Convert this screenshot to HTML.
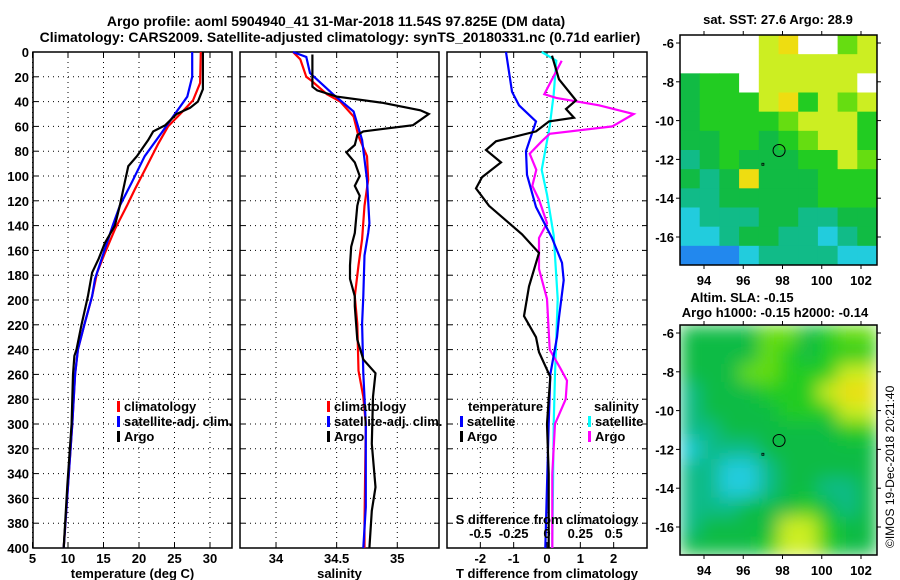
<!DOCTYPE html>
<html><head><meta charset="utf-8"><style>
body{margin:0;background:#fff}
svg{display:block;font-family:"Liberation Sans",Arial,sans-serif;font-weight:bold}
text{font-size:13px;fill:#000}
</style></head><body>
<svg id="c" width="900" height="580" xmlns="http://www.w3.org/2000/svg">
<text x="336" y="26" text-anchor="middle" style="font-size:14px">Argo profile: aoml 5904940_41 31-Mar-2018 11.54S 97.825E (DM data)</text>
<text x="340" y="42" text-anchor="middle" style="font-size:14px">Climatology: CARS2009. Satellite-adjusted climatology: synTS_20180331.nc (0.71d earlier)</text>
<text x="778" y="24" text-anchor="middle">sat. SST: 27.6 Argo: 28.9</text>
<text x="742" y="302" text-anchor="middle">Altim. SLA: -0.15</text>
<text x="775" y="317" text-anchor="middle">Argo h1000: -0.15 h2000: -0.14</text>
<text transform="translate(894,548) rotate(-90)" style="font-size:12px;font-weight:normal">©IMOS 19-Dec-2018 20:21:40</text>
</svg>
<script>
const tClimD=[0,25,39,50,60,74,92,111,124,143,162,178,197,220,240,260,300,350,400];
const tClimV=[28.7,28.6,27.6,25.8,24.1,22.7,21.1,19.4,18.3,16.6,15.2,14.1,13.4,12.3,11.4,11.0,10.6,10.0,9.4];
const tSatD=[0,20,36,52,65,84,105,124,140,164,183,197,220,240,260,300,350,400];
const tSatV=[27.5,27.5,26.8,24.8,23.2,20.8,19.0,17.3,16.3,14.9,13.8,13.4,12.3,11.4,11.0,10.6,10.0,9.4];
const tArgD=[0,30,40,45,50,59,64,71,84,92,105,124,140,154,167,178,197,220,240,245,260,300,350,400];
const tArgV=[29.0,29.0,28.3,27.2,25.3,23.7,22.0,21.3,19.7,18.5,18.0,17.3,16.6,15.2,14.3,13.4,12.8,11.9,11.2,10.9,10.7,10.5,9.9,9.4];
const sClimD=[0,6,20,23,34,40,52,68,84,103,124,151,172,197,219,257,278,300,380,400];
const sClimV=[34.14,34.20,34.25,34.29,34.42,34.53,34.64,34.68,34.75,34.76,34.73,34.71,34.68,34.65,34.67,34.68,34.72,34.74,34.73,34.73];
const sSatD=[0,4,17,34,48,71,103,138,146,164,197,219,259,300,367,400];
const sSatV=[34.14,34.25,34.28,34.47,34.64,34.71,34.75,34.77,34.76,34.73,34.72,34.71,34.72,34.74,34.74,34.72];
const sArgD=[2,28,31,36,41,47,50,59,64,67,75,81,89,100,108,116,124,146,157,172,183,197,205,232,248,259,278,316,351,370,400];
const sArgV=[34.30,34.30,34.34,34.50,34.88,35.19,35.26,35.13,34.72,34.67,34.65,34.58,34.65,34.69,34.65,34.69,34.67,34.65,34.62,34.61,34.61,34.65,34.65,34.67,34.72,34.82,34.80,34.79,34.82,34.79,34.77];
const dTsD=[0,32,43,56,80,99,125,150,170,184,214,230,260,300,400];
const dTsV=[-1.23,-1.05,-0.84,-0.33,-0.63,-0.6,-0.33,0.15,0.45,0.5,0.36,0.3,0.1,0.05,-0.05];
const dTaD=[3,22,39,46,53,56,64,72,79,89,101,110,124,147,162,189,213,230,242,262,280,300,340,400];
const dTaV=[0.15,0.36,0.87,0.57,0.81,0.06,-0.33,-1.53,-1.83,-1.38,-1.95,-2.13,-1.74,-0.75,-0.24,-0.54,-0.69,-0.33,-0.24,0.1,0.05,0,0.05,0.05];
const dSaD=[7,34,37,43,50,60,66,72,82,95,108,119,138,150,175,199,240,255,265,280,300,340,400];
const dSaV=[0.11,-0.02,0.07,0.39,0.65,0.49,0.02,-0.04,-0.13,-0.08,-0.11,-0.06,0,-0.06,-0.06,0,0.02,0.1,0.15,0.14,0.06,0.04,0.04];
const dSsD=[0,7,34,60,95,115,148,199,260,300,400];
const dSsV=[-0.04,0.07,0.05,0.02,-0.04,0,0.05,0.08,0.06,0.05,0.04];
const depthTicks=[0,20,40,60,80,100,120,140,160,180,200,220,240,260,280,300,320,340,360,380,400];
const sstGrid=["wwwwyYwwly","wwwwyyyyyy","Gggwyyyyyw","GgggyYgyly","Ggggglyyyg","GGggGglyyg","tGgGGGggyl","GtGYGGGggg","ttGGGGGggg","ctttGGttGG","cctGGttctG","bbbcttttcc"];
const slaGrid=["GGGGllGgll","GGGGlgGggg","GGGllgggyy","tGGGgggyYY","tGGGGgggyy","ttGGGGGGgg","ctttGGGGGG","ttcctGGGGG","ttcctGGttG","tttGGGgGtG","tGGGGyygGG","GGGGgyygGG"];
const latTicks=[-6,-8,-10,-12,-14,-16];
const lonTicks=[94,96,98,100,102];

const NS="http://www.w3.org/2000/svg",svg=document.getElementById('c');
function mk(t,a,p){const e=document.createElementNS(NS,t);for(const k in a)e.setAttribute(k,a[k]);(p||svg).appendChild(e);return e;}
const yTop=52,yBot=548;
const yD=d=>yTop+(yBot-yTop)*d/400;
function panel(x0,x1,v0,v1,name){
  const xs=v=>x0+(x1-x0)*(v-v0)/(v1-v0);
  const g=mk('g',{});
  
  
  return {x0,x1,xs,g};
}
function frame(p,xt,lbl,showY){
  depthTicks.forEach(d=>{const y=yD(d);
    if(d>0&&d<400){const l=mk('line',{x1:p.x0,x2:p.x1,y1:y,y2:y,stroke:'#000','stroke-dasharray':'1,4'},p.g);}
    mk('line',{x1:p.x0,x2:p.x0+5,y1:y,y2:y,stroke:'#000'},p.g);mk('line',{x1:p.x1-5,x2:p.x1,y1:y,y2:y,stroke:'#000'},p.g);
    if(showY){const t=mk('text',{x:p.x0-4,y:y+5,'text-anchor':'end'},p.g);t.textContent=d;}
  });
  xt.forEach(v=>{const x=p.xs(v);
    const l=mk('line',{x1:x,x2:x,y1:yTop,y2:yBot,stroke:'#000','stroke-dasharray':'1,4'},p.g);
    mk('line',{x1:x,x2:x,y1:yBot-5,y2:yBot,stroke:'#000'},p.g);mk('line',{x1:x,x2:x,y1:yTop,y2:yTop+5,stroke:'#000'},p.g);
    const t=mk('text',{x:x,y:563,'text-anchor':'middle'},p.g);t.textContent=v;});
  const r=mk('rect',{x:p.x0,y:yTop,width:p.x1-p.x0,height:yBot-yTop,fill:'none',stroke:'#000','stroke-width':1.5},p.g);
  
  const t=mk('text',{x:(p.x0+p.x1)/2,y:578,'text-anchor':'middle'},p.g);t.textContent=lbl;
  
}
function line(p,D,V,col,name,k){k=k||1;
  const pts=D.map((d,i)=>p.xs(V[i]*k).toFixed(1)+','+yD(d).toFixed(1)).join(' ');
  const e=mk('polyline',{points:pts,fill:'none',stroke:col,'stroke-width':2.2},p.g);
  }
function leg(p,x,y,col,txt,name){mk('rect',{x:x,y:y-10,width:3,height:11,fill:col},p.g);
  const t=mk('text',{x:x+7,y:y},p.g);t.textContent=txt;}

const p1=panel(33,232,5.07,33.1,'temperature-panel');
frame(p1,[5,10,15,20,25,30],'temperature (deg C)',true);
line(p1,tClimD,tClimV,'#f00','temp-climatology-line');
line(p1,tSatD,tSatV,'#00f','temp-satellite-line');
line(p1,tArgD,tArgV,'#000','temp-argo-line');
leg(p1,117,411,'#f00','climatology','legend-climatology');leg(p1,117,426,'#00f','satellite-adj. clim.','legend-satellite');leg(p1,117,441,'#000','Argo','legend-argo');

const p2=panel(240,439,33.703,35.344,'salinity-panel');
frame(p2,[34,34.5,35],'salinity',false);
line(p2,sClimD,sClimV,'#f00','sal-climatology-line');
line(p2,sSatD,sSatV,'#00f','sal-satellite-line');
line(p2,sArgD,sArgV,'#000','sal-argo-line');
leg(p2,327,411,'#f00','climatology','legend-climatology');leg(p2,327,426,'#00f','satellite-adj. clim.','legend-satellite');leg(p2,327,441,'#000','Argo','legend-argo');

const p3=panel(447,647,-3,3,'difference-panel');
frame(p3,[-2,-1,0,1,2],'T difference from climatology',false);
line(p3,dSsD,dSsV,'#0ff','sal-diff-satellite-line',4);
line(p3,dSaD,dSaV,'#f0f','sal-diff-argo-line',4);
line(p3,dTsD,dTsV,'#00f','temp-diff-satellite-line');
line(p3,dTaD,dTaV,'#000','temp-diff-argo-line');
{const t=mk('text',{x:468,y:411},p3.g);t.textContent='temperature';}
{const t=mk('text',{x:594,y:411},p3.g);t.textContent='salinity';}
leg(p3,460,426,'#00f','satellite','legend-temp-satellite');leg(p3,460,441,'#000','Argo','legend-temp-argo');
leg(p3,588,426,'#0ff','satellite','legend-sal-satellite');leg(p3,588,441,'#f0f','Argo','legend-sal-argo');
{const t=mk('text',{x:547,y:524,'text-anchor':'middle'},p3.g);t.textContent='S difference from climatology';
 [[-0.5,'-0.5'],[-0.25,'-0.25'],[0,'0'],[0.25,'0.25'],[0.5,'0.5']].forEach(a=>{const t=mk('text',{x:p3.xs(a[0]*4),y:538,'text-anchor':'middle'},p3.g);t.textContent=a[1];});}

const pal={w:'#ffffff',y:'#ccee22',Y:'#eedd11',l:'#66dd11',g:'#22cc22',G:'#11bb44',t:'#11bb88',c:'#22ccdd',b:'#2288ee'};
const defs=mk('defs',{});const f=mk('filter',{id:'bl',x:'-5%',y:'-5%',width:'110%',height:'110%'},defs);mk('feGaussianBlur',{stdDeviation:9},f);
function map(y0,grid,name,blur){
  const x0=680,x1=877,y1=y0+230;
  const g=mk('g',{});
  const cw=(x1-x0)/10,ch=(y1-y0)/12;
  if(blur){const cp=mk('clipPath',{id:'cp'+y0},defs);mk('rect',{x:x0,y:y0,width:x1-x0,height:y1-y0},cp);}
  const outer=mk('g',blur?{'clip-path':'url(#cp'+y0+')'}:{},g);
  const inner=mk('g',blur?{filter:'url(#bl)'}:{},outer);
  grid.forEach((row,r)=>{for(let c=0;c<10;c++){mk('rect',{x:x0+c*cw,y:y0+r*ch,width:cw+0.5,height:ch+0.5,fill:pal[row[c]]||'#22cc22'},inner);}});
  const lonX=v=>704+(v-94)*19.625, latY=v=>y0+8+(-6-v)*19.4;
  mk('rect',{x:x0,y:y0,width:x1-x0,height:y1-y0,fill:'none',stroke:'#000','stroke-width':1.5},g);
  lonTicks.forEach(v=>{const x=lonX(v);mk('line',{x1:x,x2:x,y1:y0-4,y2:y0,stroke:'#000'},g);mk('line',{x1:x,x2:x,y1:y1,y2:y1+4,stroke:'#000'},g);
    const t=mk('text',{x:x,y:y1+20,'text-anchor':'middle'},g);t.textContent=v;});
  latTicks.forEach(v=>{const y=latY(v);mk('line',{x1:x0-4,x2:x0,y1:y,y2:y,stroke:'#000'},g);mk('line',{x1:x1,x2:x1+4,y1:y,y2:y,stroke:'#000'},g);
    const t=mk('text',{x:x0-6,y:y+5,'text-anchor':'end'},g);t.textContent=v;});
  const c=mk('circle',{cx:lonX(97.825),cy:latY(-11.54),r:6,fill:'none',stroke:'#000'},g);
  
  mk('rect',{x:lonX(96.95),y:latY(-12.2),width:2,height:2,fill:'none',stroke:'#000','stroke-width':0.8},g);
}
map(35,sstGrid,'sst-map',false);
map(325,slaGrid,'sla-map',true);
</script>
</body></html>
